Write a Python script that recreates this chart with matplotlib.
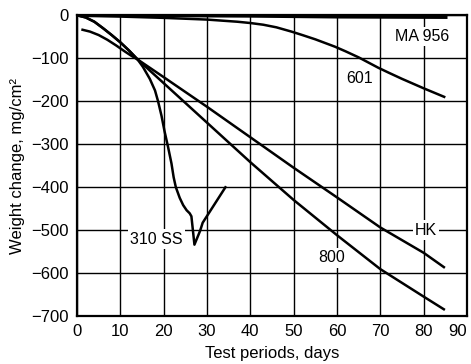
import matplotlib
matplotlib.use("Agg")
import matplotlib.pyplot as plt

plt.rcParams['font.family'] = ['Liberation Sans', 'DejaVu Sans']

# Data
ma956_days = [0, 20, 40, 60, 85.5]
ma956_wt = [0, -1, -2, -4, -5]

a601_days = [0, 10, 20, 30, 37, 40, 43, 46, 49.5, 52, 55, 59.5, 62, 65, 69.5, 72, 75, 80, 85]
a601_wt = [-1, -3, -6, -10, -15, -18, -22, -28, -38, -46, -56, -73, -84, -98, -122, -134,
           -148, -170, -191]

ss310_days = [0, 2, 4, 6, 8, 10, 12, 14, 15.2, 16.8, 18, 18.7, 19.5, 20.2, 21, 21.8, 22.3,
              22.8, 23.7, 24.5, 25.3, 26, 26.4, 27.1, 28.4, 29.0, 34.4]
ss310_wt = [0, -5, -15, -30, -46, -63, -82, -103, -120, -148, -175, -200, -234, -270, -306,
            -345, -377, -400, -425, -442, -454, -461, -468, -534, -502, -483, -398]

hk_days = [1, 3, 5, 7, 9, 11, 12.5, 14, 20, 30, 40, 50, 60, 70, 80, 84.9]
hk_wt = [-33, -38, -46, -57, -70, -84, -94, -103, -144, -213, -284, -355, -424, -494, -553, -588]

a800_days = [0, 2, 4, 6, 8, 10, 12, 14, 20, 30, 40, 50, 60, 70, 80, 84.9]
a800_wt = [0, -5, -15, -30, -46, -63, -82, -103, -158, -250, -342, -430, -512, -591, -655, -686]

labels = [("MA 956", 79.6, -49), ("601", 65.3, -148), ("310 SS", 18.4, -521),
          ("HK", 80.5, -500), ("800", 58.8, -565)]

fig = plt.figure(figsize=(4.71, 3.64), dpi=100)
ax = fig.add_axes([0.1635, 0.132, 0.828, 0.826])

lw = 1.8
kw = dict(color='black', lw=lw, zorder=3, solid_joinstyle='round', solid_capstyle='butt')
ax.plot(ma956_days, ma956_wt, **{**kw, 'lw': 2.2})
ax.plot(a601_days, a601_wt, **kw)
ax.plot(ss310_days, ss310_wt, **kw)
ax.plot(hk_days, hk_wt, **kw)
ax.plot(a800_days, a800_wt, **kw)

for txt, x, y in labels:
    bbox = dict(facecolor='white', edgecolor='none', pad=1.5)
    ax.text(x, y, txt, fontsize=11.5, ha='center', va='center', zorder=4, bbox=bbox)

ax.set_xlim(0, 90)
ax.set_ylim(-700, 0)
ax.set_xticks(range(0, 91, 10))
ax.set_yticks(range(-700, 1, 100))
ax.grid(True, color='black', lw=1.0, zorder=1)
ax.set_axisbelow(True)
ax.tick_params(length=0, labelsize=12, pad=6)
for s in ax.spines.values():
    s.set_linewidth(1.6)
    s.set_zorder(5)

xt = ax.get_xticklabels()
xt[-1].set_horizontalalignment('right')
xt[-1].set_x(90)

ax.set_xlabel("Test periods, days", fontsize=12, labelpad=5)
ax.set_ylabel("Weight change, mg/cm²", fontsize=12, labelpad=4)

fig.savefig("out.png", dpi=100)
